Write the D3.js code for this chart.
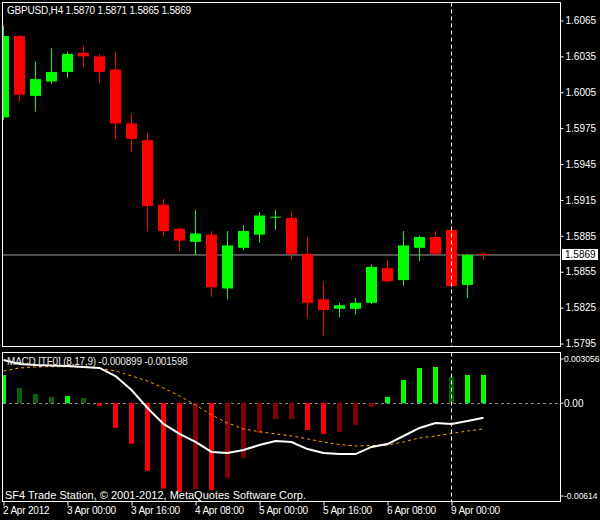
<!DOCTYPE html>
<html><head><meta charset="utf-8">
<script src="https://cdn.jsdelivr.net/npm/d3@7"></script>
<style>
body{margin:0;background:#000;}
svg{display:block;}
text{font-family:"Liberation Sans",Arial,sans-serif;}
</style>
</head><body>
<svg id="chart" width="600" height="520"></svg>
<script>
// ---------- DATA ----------
const chartTitle = "GBPUSD,H4  1.5870 1.5871 1.5865 1.5869";
const macdTitle = "MACD [TF0] (8,17,9)  -0.000899 -0.001598";
const copyright = "SF4 Trade Station, \u00A9 2001-2012, MetaQuotes Software Corp.";

const opens  = [1.5984,1.6052,1.6002,1.6014,1.6022,1.6038,1.6035,1.6024,1.5979,1.5965,1.5911,1.5891,1.5880,1.5886,1.5841,1.5875,1.5886,1.5901,1.5900,1.5870,1.5832,1.5824,1.5824,1.5829,1.5858,1.5848,1.5875,1.5884,1.5890,1.5844,1.5870];
const highs  = [1.6061,1.6053,1.6031,1.6042,1.6039,1.6044,1.6037,1.6039,1.5987,1.5971,1.5916,1.5892,1.5907,1.5889,1.5889,1.5894,1.5905,1.5907,1.5906,1.5884,1.5847,1.5829,1.5833,1.5861,1.5865,1.5889,1.5885,1.5889,1.5891,1.5870,1.5871];
const lows   = [1.5982,1.5997,1.5989,1.6012,1.6017,1.6026,1.6013,1.5966,1.5955,1.5889,1.5885,1.5872,1.5869,1.5834,1.5832,1.5873,1.5879,1.5890,1.5865,1.5816,1.5802,1.5817,1.5819,1.5828,1.5846,1.5843,1.5864,1.5868,1.5842,1.5833,1.5865];
const closes = [1.6052,1.6003,1.6016,1.6022,1.6037,1.6035,1.6022,1.5979,1.5966,1.5910,1.5889,1.5881,1.5887,1.5842,1.5877,1.5889,1.5902,1.5901,1.5870,1.5829,1.5823,1.5827,1.5829,1.5859,1.5847,1.5877,1.5884,1.5870,1.5843,1.5869,1.5869];

const histValues   = [0.00175,0.00094,0.00057,0.00039,0.00045,0.00032,-0.00017,-0.00154,-0.00252,-0.00421,-0.00531,-0.00552,-0.00533,-0.00539,-0.00463,-0.00339,-0.00185,-0.00098,-0.00098,-0.00167,-0.00191,-0.00179,-0.00135,-0.00024,0.00039,0.00144,0.00219,0.00225,0.00163,0.00175,0.00176];
const macdValues   = [0.00268,0.00244,0.00237,0.00234,0.00231,0.00225,0.00219,0.00169,0.00082,-0.00030,-0.00129,-0.00191,-0.00241,-0.00303,-0.00309,-0.00291,-0.00260,-0.00235,-0.00241,-0.00285,-0.00309,-0.00316,-0.00316,-0.00272,-0.00254,-0.00204,-0.00154,-0.00123,-0.00129,-0.00111,-0.000899];
const signalValues = [0.00200,0.00219,0.00225,0.00227,0.00227,0.00225,0.00217,0.00200,0.00169,0.00138,0.00094,0.00045,-0.00011,-0.00073,-0.00123,-0.00160,-0.00177,-0.00191,-0.00204,-0.00222,-0.00241,-0.00257,-0.00266,-0.00263,-0.00260,-0.00241,-0.00216,-0.00204,-0.00188,-0.00173,-0.001598];

const timeTickIndex = [0,4,8,12,16,20,24,28];
const timeLabels = ["2 Apr 2012","3 Apr 00:00","3 Apr 16:00","4 Apr 08:00","5 Apr 00:00","5 Apr 16:00","6 Apr 08:00","9 Apr 00:00"];
const priceTicks = [1.6065,1.6035,1.6005,1.5975,1.5945,1.5915,1.5885,1.5855,1.5825,1.5795];
const currentPrice = 1.5869;
const macdMax = 0.003056, macdMin = -0.00614;
const macdTickLabels = ["0.003056","0.00","-0.00614"];
const crosshairIndex = 28;

// ---------- LAYOUT ----------
const svg = d3.select("#chart");
const L = 2.5, R = 560.5;
const mainTop = 2.5, mainBot = 346.5;
const subTop = 352.5, subBot = 501.5;

const x = d3.scaleLinear().domain([0, 30]).range([3.5, 483.5]);
const y = d3.scaleLinear().domain([1.5795, 1.6065]).range([343.5, 20.5]);
const ym = d3.scaleLinear().domain([macdMin, macdMax]).range([502, 354]);

svg.append("rect").attr("width",600).attr("height",520).attr("fill","#000");

const defs = svg.append("defs");
defs.append("clipPath").attr("id","clipMain").append("rect")
  .attr("x",3).attr("y",3).attr("width",557).attr("height",343);
defs.append("clipPath").attr("id","clipSub").append("rect")
  .attr("x",3).attr("y",353).attr("width",557).attr("height",148);

const idx = d3.range(opens.length);
const bull = i => closes[i] >= opens[i];
const candleColor = i => bull(i) ? "#00ff00" : "#ff0000";

// ---------- MAIN PANEL ----------
const gMain = svg.append("g").attr("clip-path","url(#clipMain)");

gMain.append("line")
  .attr("x1",3).attr("x2",560)
  .attr("y1",y(currentPrice)).attr("y2",y(currentPrice))
  .attr("stroke","#a0a0a0").attr("stroke-width",1);

gMain.selectAll("rect.wick").data(idx).join("rect").attr("class","wick")
  .attr("x", i => x(i) - 0.5).attr("width", 1)
  .attr("y", i => y(highs[i]))
  .attr("height", i => Math.max(1, y(lows[i]) - y(highs[i])))
  .attr("fill", candleColor);

gMain.selectAll("rect.body").data(idx).join("rect").attr("class","body")
  .attr("x", i => x(i) - 5.5).attr("width", 11)
  .attr("y", i => y(Math.max(opens[i], closes[i])))
  .attr("height", i => Math.max(1, y(Math.min(opens[i], closes[i])) - y(Math.max(opens[i], closes[i]))))
  .attr("fill", candleColor);

// ---------- MACD PANEL ----------
const gSub = svg.append("g").attr("clip-path","url(#clipSub)");

gSub.append("line")
  .attr("x1",3).attr("x2",560)
  .attr("y1",Math.round(ym(0))+0.5).attr("y2",Math.round(ym(0))+0.5)
  .attr("stroke","#909090").attr("stroke-dasharray","3,3");

const histColor = i => {
  const v = histValues[i], p = i > 0 ? histValues[i-1] : null;
  if (v >= 0) return (p === null || v >= p) ? "#00ff00" : "#006400";
  return (p === null || v < p) ? "#ff0000" : "#800000";
};
gSub.selectAll("rect.hist").data(idx).join("rect").attr("class","hist")
  .attr("x", i => x(i) - 2.5).attr("width", 5)
  .attr("y", i => ym(Math.max(0, histValues[i])))
  .attr("height", i => Math.abs(ym(histValues[i]) - ym(0)))
  .attr("fill", histColor);

const lineGen = arr => d3.line().x(i => x(i)).y(i => ym(arr[i]))(idx);

gSub.append("path").attr("d", lineGen(signalValues))
  .attr("fill","none").attr("stroke","#ffa500").attr("stroke-width",1)
  .attr("stroke-dasharray","3,3");
gSub.append("path").attr("d", lineGen(macdValues))
  .attr("fill","none").attr("stroke","#ffffff").attr("stroke-width",2);

[[mainTop, mainBot],[subTop, subBot]].forEach(([a,b]) => {
  svg.append("line")
    .attr("x1", x(crosshairIndex)).attr("x2", x(crosshairIndex))
    .attr("y1", a).attr("y2", b)
    .attr("stroke","#ffffff").attr("stroke-width",1).attr("stroke-dasharray","4,3");
});

// ---------- FRAMES ----------
svg.append("rect").attr("x",L).attr("y",mainTop).attr("width",R-L).attr("height",mainBot-mainTop)
  .attr("fill","none").attr("stroke","#fff");
svg.append("rect").attr("x",L).attr("y",subTop).attr("width",R-L).attr("height",subBot-subTop)
  .attr("fill","none").attr("stroke","#fff");

// ---------- AXES ----------
const yAxis = d3.axisRight(y).tickValues(priceTicks).tickFormat(d3.format(".4f"))
  .tickSize(3).tickPadding(2);
const gY = svg.append("g").attr("transform",`translate(${R},0)`).call(yAxis);
gY.select(".domain").remove();
gY.selectAll("line").attr("stroke","#fff");
gY.selectAll("text").attr("fill","#fff").attr("font-size","10px")
  .attr("font-family","'Liberation Sans',Arial,sans-serif");

const cpY = y(currentPrice);
svg.append("rect").attr("x",562).attr("y",cpY-6).attr("width",36).attr("height",11).attr("fill","#fff");
svg.append("text").attr("x",565).attr("y",cpY).attr("dy","0.35em")
  .attr("font-size","10px").attr("fill","#000").text(d3.format(".4f")(currentPrice));

const macdTickVals = [macdMax, 0, macdMin];
const macdTickOffset = [5, 0, -6];
macdTickVals.forEach((v,k) => {
  svg.append("line").attr("x1",R).attr("x2",R+3)
    .attr("y1",ym(v)+macdTickOffset[k]).attr("y2",ym(v)+macdTickOffset[k]).attr("stroke","#fff");
  svg.append("text").attr("x",564).attr("y",ym(v)+macdTickOffset[k]).attr("dy","0.35em")
    .attr("font-size", macdTickLabels[k].length > 5 ? "8.5px" : "10px")
    .attr("fill","#fff").text(macdTickLabels[k]);
});

const xAxis = d3.axisBottom(x).tickValues(timeTickIndex)
  .tickFormat((d,k) => timeLabels[k]).tickSize(4).tickPadding(1);
const gX = svg.append("g").attr("transform",`translate(0,${subBot})`).call(xAxis);
gX.select(".domain").remove();
gX.selectAll("line").attr("stroke","#fff");
gX.selectAll("text").attr("fill","#fff").attr("font-size","10px")
  .attr("text-anchor","start").attr("dx","-1px").attr("letter-spacing","-0.2px")
  .attr("font-family","'Liberation Sans',Arial,sans-serif");

// ---------- TEXTS ----------
svg.append("text").attr("x",7).attr("y",14).attr("font-size","10px").attr("letter-spacing","-0.2px")
  .attr("fill","#fff").text(chartTitle);
svg.append("text").attr("x",7).attr("y",365).attr("font-size","10px").attr("letter-spacing","-0.2px")
  .attr("fill","#e8e8e8").text(macdTitle);
svg.append("text").attr("x",5).attr("y",499).attr("font-size","11px").attr("fill","#fff").text(copyright);
</script>
</body></html>
